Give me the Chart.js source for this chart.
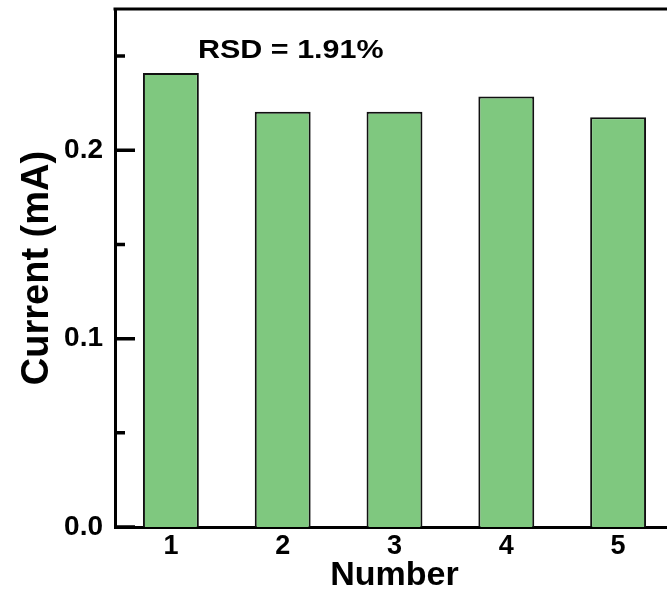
<!DOCTYPE html>
<html>
<head>
<meta charset="utf-8">
<script src="https://cdn.jsdelivr.net/npm/chart.js@4/dist/chart.umd.min.js"></script>
<style>
  html, body { margin: 0; padding: 0; overflow: hidden; background: #fff; }
  #wrap { width: 675px; height: 599px; }
</style>
</head>
<body>
<div id="wrap"><canvas id="bars" width="675" height="599"></canvas></div>
<script>
const numbers = ['1', '2', '3', '4', '5'];
const currents = [0.241, 0.2205, 0.2205, 0.2285, 0.2175];
const yMajorTicks = [0, 0.1, 0.2];
const yMinorTicks = [0.05, 0.15, 0.25];
const rsdText = 'RSD = 1.91%';

const fontFam = "'Liberation Sans', Arial, sans-serif";

// inward ticks, top frame line and RSD annotation
const frame = {
    id: 'frame',
    afterDraw(chart) {
        const ctx = chart.ctx;
        const area = chart.chartArea;
        const y = chart.scales.y;
        ctx.save();
        ctx.strokeStyle = '#000';
        ctx.lineWidth = 3;
        ctx.beginPath();
        ctx.moveTo(area.left - 1.5, area.top);
        ctx.lineTo(area.right + 2, area.top);
        ctx.moveTo(area.right, area.top);
        ctx.lineTo(area.right, area.bottom);
        ctx.stroke();

        ctx.lineWidth = 3.5;
        ctx.beginPath();
        yMajorTicks.forEach(v => {
            const py = y.getPixelForValue(v);
            ctx.moveTo(area.left, py);
            ctx.lineTo(area.left + 20, py);
        });
        yMinorTicks.forEach(v => {
            const py = y.getPixelForValue(v);
            ctx.moveTo(area.left, py);
            ctx.lineTo(area.left + 10, py);
        });
        ctx.stroke();

        ctx.fillStyle = '#000';
        ctx.font = 'bold 25px ' + fontFam;
        ctx.textBaseline = 'alphabetic';
        ctx.translate(area.left + 83, area.top + 49);
        ctx.scale(1.22, 1);
        ctx.fillText(rsdText, 0, 0);
        ctx.restore();
    }
};

const ctx = document.getElementById('bars').getContext('2d');
new Chart(ctx, {
    type: 'bar',
    data: {
        labels: numbers,
        datasets: [{
            data: currents,
            backgroundColor: '#7fc87f',
            borderColor: '#111',
            borderWidth: 2,
            barPercentage: 0.5,
            categoryPercentage: 1.0
        }]
    },
    options: {
        responsive: false,
        animation: false,
        layout: { padding: { top: 9, right: 1, left: 0, bottom: 0 } },
        plugins: {
            legend: { display: false },
            tooltip: { enabled: false }
        },
        scales: {
            x: {
                offset: true,
                grid: { display: false, drawTicks: false },
                border: { color: '#000', width: 3 },
                ticks: {
                    color: '#000',
                    padding: 3,
                    font: { family: fontFam, size: 27, weight: 'bold' }
                },
                title: {
                    display: true,
                    text: 'Number',
                    color: '#000',
                    padding: { top: 0, bottom: 3 },
                    font: { family: fontFam, size: 34, weight: 'bold' }
                },
                afterFit(scale) {
                    scale.height = 72;
                    scale.paddingLeft = 0;
                    scale.paddingRight = 0;
                }
            },
            y: {
                min: 0,
                max: 0.275,
                afterBuildTicks(scale) {
                    scale.ticks = yMajorTicks.map(v => ({ value: v }));
                },
                grid: { display: false, drawTicks: false },
                border: { color: '#000', width: 3 },
                ticks: {
                    color: '#000',
                    padding: 12,
                    font: { family: fontFam, size: 28, weight: 'bold' },
                    callback: v => v.toFixed(1)
                },
                title: {
                    display: true,
                    text: 'Current (mA)',
                    color: '#000',
                    padding: { top: 15, bottom: 0 },
                    font: { family: fontFam, size: 38, weight: 'bold' }
                },
                afterFit(scale) {
                    scale.width = 115;
                    scale.paddingTop = 0;
                    scale.paddingBottom = 0;
                }
            }
        }
    },
    plugins: [frame]
});
</script>
</body>
</html>
